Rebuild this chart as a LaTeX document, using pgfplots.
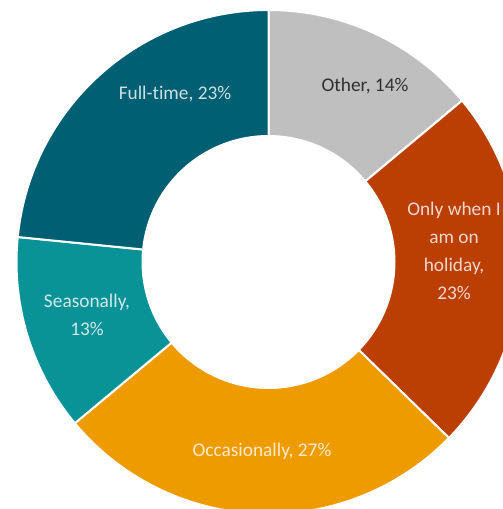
\documentclass[border=0pt]{standalone}
\usepackage{pgfplots}
\pgfplotsset{compat=1.18}
\usepackage{fontspec}
\setmainfont{Carlito}[Ligatures=NoCommon]
\usetikzlibrary{calc}
\definecolor{cOther}{HTML}{BFBFBF}
\definecolor{cHoliday}{HTML}{BB3E03}
\definecolor{cOcc}{HTML}{EE9B00}
\definecolor{cSeas}{HTML}{0A9396}
\definecolor{cFull}{HTML}{005F73}
\begin{document}
\begin{tikzpicture}
\useasboundingbox (0,0) rectangle (376.5pt,381.75pt);
\begin{axis}[
  x=0.75pt, y=0.75pt,
  xmin=0, xmax=502, ymin=0, ymax=509,
  disabledatascaling,
  hide axis, clip=false,
  at={(0,0)}, anchor=south west,
]
% shares in percent, clockwise from the top
\def\startang{90}
\foreach \v/\col in {13.94/cOther, 23.36/cHoliday, 26.65/cOcc, 12.63/cSeas, 23.42/cFull}{
  \pgfmathsetmacro\endang{\startang-3.6*\v}
  \edef\seg{\noexpand\fill[\col, draw=white, line width=1.5pt]
    ($(axis cs:268.5,247)+(\startang:189pt)$)
    arc[start angle=\startang, end angle=\endang, radius=189pt]
    -- ($(axis cs:268.5,247)+(\endang:94.5pt)$)
    arc[start angle=\endang, end angle=\startang, radius=94.5pt] -- cycle;}
  \seg
  \global\let\startang\endang
}
\tikzset{lbl/.style={align=center, font=\fontsize{14.5}{21}\selectfont, text=white, text opacity=0.8}}
\node[lbl] at (axis cs:175,415) {Full-time, 23\%};
\node[lbl, text=black, text opacity=0.75] at (axis cs:365,423) {Other, 14\%};
\node[lbl] at (axis cs:454,258) {Only when I\\am on\\holiday,\\23\%};
\node[lbl] at (axis cs:87,194) {Seasonally,\\13\%};
\node[lbl] at (axis cs:262,58) {Occasionally, 27\%};
\end{axis}
\end{tikzpicture}
\end{document}
